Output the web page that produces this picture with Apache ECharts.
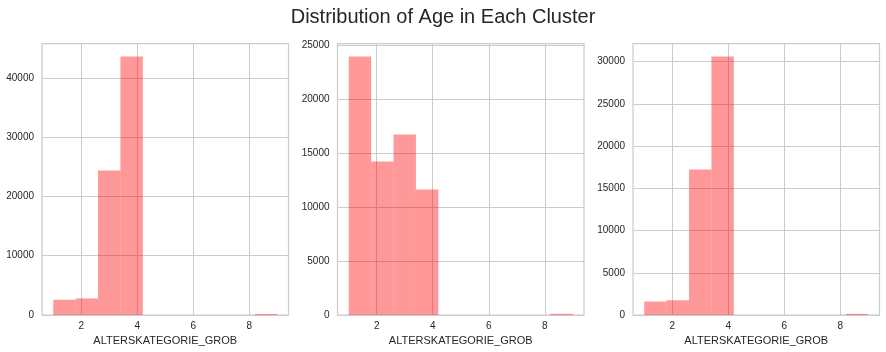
<!DOCTYPE html>
<html>
<head>
<meta charset="utf-8">
<script src="https://cdn.jsdelivr.net/npm/echarts@6/dist/echarts.min.js"></script>
<style>
    html, body { margin: 0; padding: 0; background: #fff; }
    #chart { width: 886px; height: 352px; }
</style>
</head>
<body>
<div id="chart"></div>
<script>
    // histogram bins of ALTERSKATEGORIE_GROB (10 bins between 1 and 9)
    var binEdges = [1, 1.8, 2.6, 3.4, 4.2, 5.0, 5.8, 6.6, 7.4, 8.2, 9.0];
    var cluster1 = [2580, 2800, 24350, 43600, 0, 0, 0, 0, 0, 170];
    var cluster2 = [23970, 14230, 16730, 11630, 0, 0, 0, 0, 0, 110];
    var cluster3 = [1600, 1750, 17230, 30630, 0, 0, 0, 0, 0, 130];
    var xTicks = [2, 4, 6, 8];
    var yStep = [10000, 5000, 5000];

    var textColor = '#262626';
    var gridColor = '#cccccc';
    var font = 'Liberation Sans, Arial, sans-serif';

    var clusters = [cluster1, cluster2, cluster3];
    var gridLefts = [42, 337.5, 633];

    function toBins(counts) {
        return counts.map(function (c, i) {
            return [binEdges[i], binEdges[i + 1], c];
        });
    }

    var chart = echarts.init(document.getElementById('chart'));

    var option = {
        backgroundColor: '#fff',
        animation: false,
        title: {
            text: 'Distribution of Age in Each Cluster',
            left: 'center',
            top: 2,
            textStyle: { fontFamily: font, fontSize: 20, fontWeight: 'normal', color: textColor }
        },
        grid: [],
        xAxis: [],
        yAxis: [],
        series: []
    };

    clusters.forEach(function (counts, k) {
        var span = binEdges[binEdges.length - 1] - binEdges[0];
        var yMax = Math.max.apply(null, counts) * 1.05;

        option.grid.push({
            left: gridLefts[k], top: 43.5, width: 246.5, height: 271.5,
            show: true, borderColor: gridColor, borderWidth: 1.25, backgroundColor: 'transparent'
        });
        option.xAxis.push({
            type: 'value', gridIndex: k,
            min: binEdges[0] - span * 0.05,
            max: binEdges[binEdges.length - 1] + span * 0.05,
            name: 'ALTERSKATEGORIE_GROB',
            nameLocation: 'middle', nameGap: 20,
            nameTextStyle: { fontFamily: font, fontSize: 11, color: textColor },
            axisLine: { show: false },
            axisTick: { show: false, customValues: xTicks },
            axisLabel: {
                customValues: xTicks, margin: 6, fontFamily: font, fontSize: 10, color: textColor,
                formatter: function (v) { return String(v); }
            },
            splitLine: { show: true, lineStyle: { color: gridColor, width: 1 } }
        });
        option.yAxis.push({
            type: 'value', gridIndex: k,
            min: 0, max: yMax, interval: yStep[k],
            axisLine: { show: false },
            axisTick: { show: false },
            axisLabel: {
                showMaxLabel: false, margin: 8, fontFamily: font, fontSize: 10, color: textColor,
                formatter: function (v) { return String(v); }
            },
            splitLine: { show: true, lineStyle: { color: gridColor, width: 1 } }
        });
        option.series.push({
            type: 'custom',
            xAxisIndex: k, yAxisIndex: k,
            data: toBins(counts),
            encode: { x: [0, 1], y: 2 },
            renderItem: function (params, api) {
                var p0 = api.coord([api.value(0), api.value(2)]);
                var p1 = api.coord([api.value(1), 0]);
                return {
                    type: 'rect',
                    shape: { x: p0[0], y: p0[1], width: p1[0] - p0[0], height: p1[1] - p0[1] },
                    style: { fill: 'rgba(255,0,0,0.4)' }
                };
            }
        });
    });

    chart.setOption(option);
</script>
</body>
</html>
